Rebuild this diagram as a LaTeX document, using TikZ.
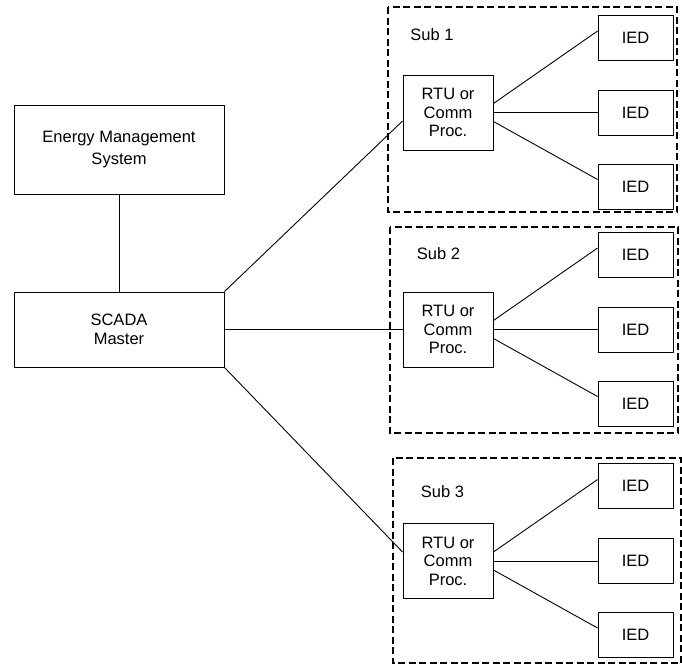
\documentclass[tikz,border=0pt]{standalone}
\usepackage{fontspec}
\setmainfont{Liberation Sans}
\begin{document}
\begin{tikzpicture}[x=1pt,y=-1pt,
    box/.style={draw,line width=0.9pt,inner sep=0pt,align=center,font=\fontsize{16.5}{18.5}\selectfont},
    lbl/.style={inner sep=0pt,font=\fontsize{16.5}{18.5}\selectfont},
    subbox/.style={draw,line width=1.8pt,dash pattern=on 7pt off 3.5pt},
    link/.style={line width=0.9pt}]
  \useasboundingbox (0,0) rectangle (682,665);
  \node[box,minimum width=210pt,minimum height=89pt,font=\fontsize{16.5}{22.7}\selectfont] (ems) at (119,149.5) {Energy Management\\System};
  \node[box,minimum width=210pt,minimum height=75pt] (scada) at (119,329.5) {SCADA\\Master};
  \draw[link] (ems) -- (scada);
  \foreach \s/\r/\a/\b/\t/\u/\lx/\ly in {1/112.5/388/677/7/212/432/35,
      2/329.5/390/678/227/433/438.5/253.5, 3/561/393/681/458/663/442.5/491.5} {
    \draw[subbox] (\a,\t) rectangle (\b,\u);
    \node[lbl] (sub\s) at (\lx,\ly) {Sub \s};
    \node[box,minimum width=90pt,minimum height=75pt] (rtu\s) at (448,\r) {RTU or\\Comm\\Proc.};
    \node[box,minimum width=75pt,minimum height=45pt] (ied\s-t) at (635.5,\r-75) {IED};
    \node[box,minimum width=75pt,minimum height=45pt] (ied\s-m) at (635.5,\r) {IED};
    \node[box,minimum width=75pt,minimum height=45pt] (ied\s-b) at (635.5,\r+74) {IED};
    \draw[link] ([yshift=9pt]rtu\s.east) -- ([yshift=6.5pt]ied\s-t.west);
    \draw[link] (rtu\s.east) -- (ied\s-m.west);
    \draw[link] ([yshift=-9pt]rtu\s.east) -- ([yshift=7pt]ied\s-b.west);
  }
  \draw[link] (scada.north east) -- ([yshift=-8.5pt]rtu1.west);
  \draw[link] (scada.east) -- (rtu2.west);
  \draw[link] (scada.south east) -- ([yshift=9pt]rtu3.west);
\end{tikzpicture}
\end{document}
